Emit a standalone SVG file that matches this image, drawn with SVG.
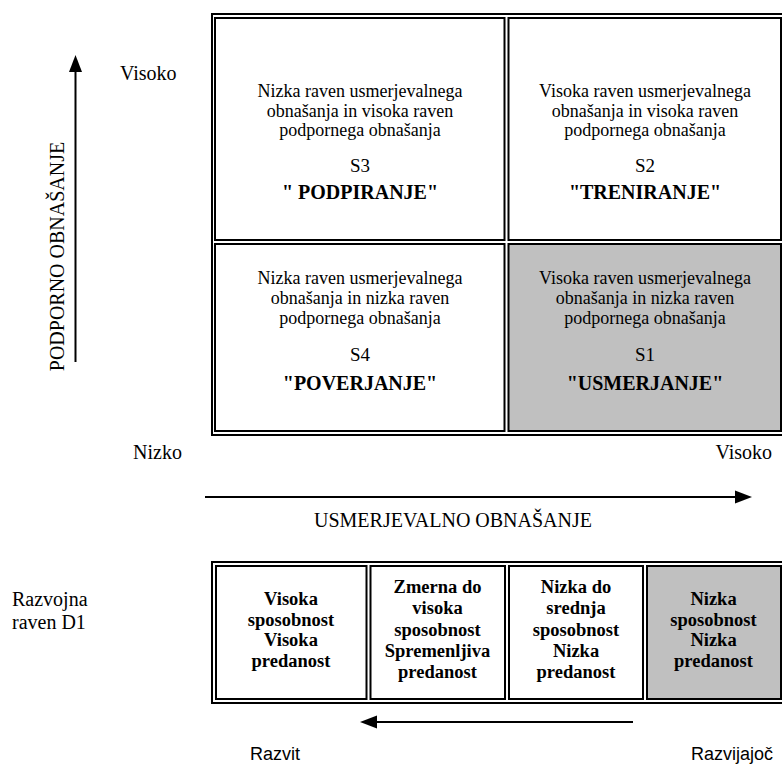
<svg xmlns="http://www.w3.org/2000/svg" width="782" height="765" viewBox="0 0 782 765">
<style>
.t{font-family:"Liberation Serif","Times New Roman",serif;fill:#000}
.c{font-size:18px;text-anchor:middle}
.s{font-size:19px;text-anchor:middle}
.b{font-size:20px;font-weight:bold;text-anchor:middle}
.bb{font-size:18.5px;font-weight:bold;text-anchor:middle}
.ax{font-size:20px}
.sans{font-family:"Liberation Sans",Arial,sans-serif;font-size:18px;fill:#000}
.box{fill:#fff;stroke:#000;stroke-width:2}
.gray{fill:#c0c0c0;stroke:#000;stroke-width:2}
.out{fill:none;stroke:#000;stroke-width:2}
.arr{stroke:#000;stroke-width:2;fill:none}
</style>
<defs>
<marker id="ah" markerUnits="userSpaceOnUse" markerWidth="17" markerHeight="14" refX="0" refY="7" orient="auto">
<path d="M0,0.5 L17,7 L0,13.5 z" fill="#000"/>
</marker>
</defs>
<rect width="782" height="765" fill="#fff"/>

<g id="matrix-frame">
<rect class="out" x="212" y="14" width="573" height="421"/>
</g>

<g id="s3">
<rect class="box" x="215" y="18" width="289.5" height="222"/>
<text class="t c" x="360" y="97">Nizka raven usmerjevalnega</text>
<text class="t c" x="360" y="116.5">obnašanja in visoka raven</text>
<text class="t c" x="360" y="136">podpornega obnašanja</text>
<text class="t s" x="360" y="172">S3</text>
<text class="t b" x="360" y="199">" PODPIRANJE"</text>
</g>

<g id="s2">
<rect class="box" x="508.5" y="18" width="272.5" height="222"/>
<text class="t c" x="645" y="97">Visoka raven usmerjevalnega</text>
<text class="t c" x="645" y="116.5">obnašanja in visoka raven</text>
<text class="t c" x="645" y="136">podpornega obnašanja</text>
<text class="t s" x="645" y="172">S2</text>
<text class="t b" x="645" y="199">"TRENIRANJE"</text>
</g>

<g id="s4">
<rect class="box" x="215" y="244" width="289.5" height="187"/>
<text class="t c" x="360" y="284">Nizka raven usmerjevalnega</text>
<text class="t c" x="360" y="304">obnašanja in nizka raven</text>
<text class="t c" x="360" y="324">podpornega obnašanja</text>
<text class="t s" x="360" y="361">S4</text>
<text class="t b" x="360" y="390">"POVERJANJE"</text>
</g>

<g id="s1">
<rect class="gray" x="508.5" y="244" width="272.5" height="187"/>
<text class="t c" x="645" y="284">Visoka raven usmerjevalnega</text>
<text class="t c" x="645" y="304">obnašanja in nizka raven</text>
<text class="t c" x="645" y="324">podpornega obnašanja</text>
<text class="t s" x="645" y="361">S1</text>
<text class="t b" x="645" y="390">"USMERJANJE"</text>
</g>

<g id="axis-labels">
<text class="t ax" x="120" y="80">Visoko</text>
<text class="t ax" transform="translate(64,256.5) rotate(-90)" text-anchor="middle" font-size="21.5">PODPORNO OBNAŠANJE</text>
<text class="t ax" x="133" y="459">Nizko</text>
<text class="t ax" x="772" y="459" text-anchor="end">Visoko</text>
<text class="t ax" x="453" y="527" text-anchor="middle">USMERJEVALNO OBNAŠANJE</text>
<text class="t ax" x="12" y="606">Razvojna</text>
<text class="t ax" x="12" y="629">raven D1</text>
<text class="sans" x="250" y="760">Razvit</text>
<text class="sans" x="773" y="760" text-anchor="end">Razvijajoč</text>
</g>

<g id="levels-frame">
<rect class="out" x="212" y="562" width="573" height="141"/>
</g>

<g id="d4">
<rect class="box" x="216" y="566" width="150.5" height="133"/>
<text class="t bb" x="291" y="605">Visoka</text>
<text class="t bb" x="291" y="626">sposobnost</text>
<text class="t bb" x="291" y="646">Visoka</text>
<text class="t bb" x="291" y="667">predanost</text>
</g>

<g id="d3">
<rect class="box" x="370.5" y="566" width="134.5" height="133"/>
<text class="t bb" x="437.5" y="593">Zmerna do</text>
<text class="t bb" x="437.5" y="614">visoka</text>
<text class="t bb" x="437.5" y="636">sposobnost</text>
<text class="t bb" x="437.5" y="657">Spremenljiva</text>
<text class="t bb" x="437.5" y="678">predanost</text>
</g>

<g id="d2">
<rect class="box" x="509" y="566" width="134" height="133"/>
<text class="t bb" x="576" y="593">Nizka do</text>
<text class="t bb" x="576" y="614">srednja</text>
<text class="t bb" x="576" y="636">sposobnost</text>
<text class="t bb" x="576" y="657">Nizka</text>
<text class="t bb" x="576" y="678">predanost</text>
</g>

<g id="d1">
<rect class="gray" x="647" y="566" width="134" height="133"/>
<text class="t bb" x="713.5" y="605">Nizka</text>
<text class="t bb" x="713.5" y="626">sposobnost</text>
<text class="t bb" x="713.5" y="646">Nizka</text>
<text class="t bb" x="713.5" y="667">predanost</text>
</g>

<g id="connectors">
<line class="arr" x1="75.5" y1="362" x2="75.5" y2="72" marker-end="url(#ah)"/>
<line class="arr" x1="205" y1="497" x2="735" y2="497" marker-end="url(#ah)"/>
<line class="arr" x1="633" y1="722" x2="377" y2="722" marker-end="url(#ah)"/>
</g>
</svg>
